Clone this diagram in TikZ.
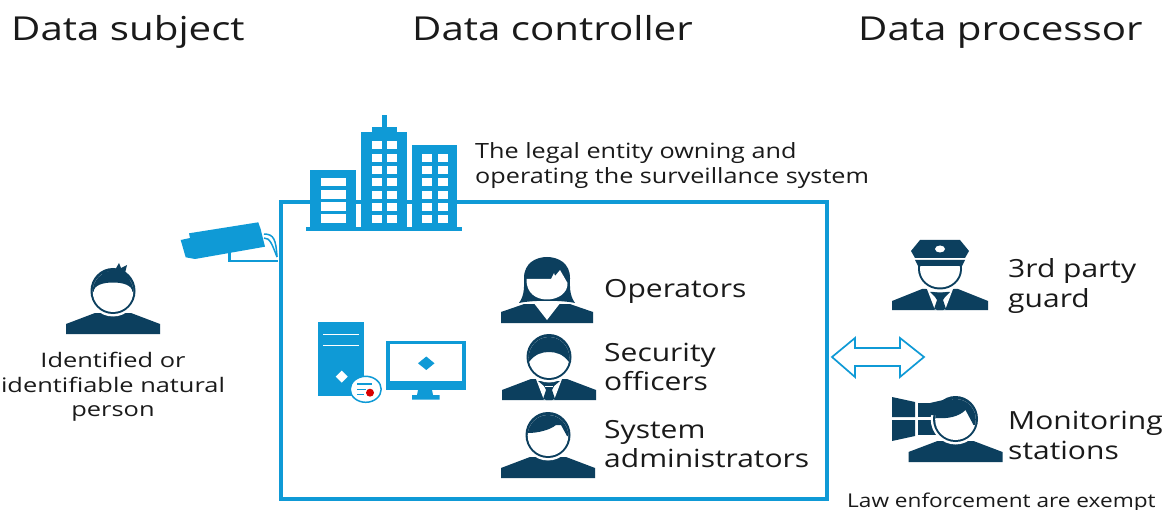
\documentclass[tikz,border=0pt]{standalone}
\usepackage{fontspec}
\setmainfont{Open Sans}
\newfontfamily\fhead[FakeStretch=1.22]{Open Sans}
\newfontfamily\flab[FakeStretch=1.2]{Open Sans}
\newfontfamily\fcap[FakeStretch=1.2]{Open Sans}
\newfontfamily\fsub[FakeStretch=1.27]{Open Sans}
\newfontfamily\flaw[FakeStretch=1.19]{Open Sans}
\definecolor{bluea}{HTML}{0F9AD6}
\definecolor{navy}{HTML}{0C3F5E}
\definecolor{ink}{HTML}{1A1A1A}
\newcommand\fs[1]{\fontsize{#1}{#1}\selectfont}
% #1 x, #2 y, #3 hair fill path, #4 extras on the body
\newcommand\bust[4]{%
  \begin{scope}[shift={(#1,#2)}]
    \fill[navy] (-47,0) -- (-47,-10) -- (-18,-21) -- (18,-21) -- (47,-10) -- (47,0) -- cycle;
    #4
    \fill[white] (0,-43) ellipse [x radius=24.8pt, y radius=25.5pt];
    \fill[navy] (0,-43) ellipse [x radius=22.5pt, y radius=23pt];
    \begin{scope}
      \path[clip] (0,-42.5) ellipse [x radius=20.3pt, y radius=20.5pt];
      \fill[white] (-30,-70) rectangle (30,-10);
      \fill[navy] #3;
    \end{scope}
  \end{scope}}
\tikzset{
  head1/.style={font=\fhead\fs{33},text=ink,anchor=base west,inner sep=0pt},
  lab/.style={font=\flab\fs{25},text=ink,anchor=base west,inner sep=0pt},
  cap1/.style={font=\fcap\fs{21},text=ink,anchor=base west,inner sep=0pt},
  capc/.style={font=\fsub\fs{20},text=ink,anchor=base,inner sep=0pt},
  win/.style={fill=white},
  boxline/.style={draw=bluea,line width=3.6pt}
}
\begin{document}
\begin{tikzpicture}[x=1pt,y=-1pt]
\useasboundingbox (0,0) rectangle (1166,510);
\fill[white] (0,0) rectangle (1166,510);
% headers
\node[head1] (hsubject) at (11,41) {Data subject};
\node[head1] (hcontroller) at (412,41) {Data controller};
\node[head1] (hprocessor) at (858,41) {Data processor};
% main box
\node[boxline,rectangle,minimum width=546pt,minimum height=297pt,inner sep=0pt,outer sep=0pt,anchor=north west] (ctrl) at (281,202) {};
% buildings
\fill[white] (306,165) rectangle (462,199.9);
\fill[bluea] (306,227) rectangle (462,231);
\fill[bluea] (310,170) rectangle (356,228);
\fill[bluea] (361,132) rectangle (407,228);
\fill[bluea] (372,127) rectangle (397,133);
\fill[bluea] (382,115) rectangle (387,128);
\fill[bluea] (412,145) rectangle (457,228);
\foreach \y in {178,190.3,202.3,214.5} \fill[win] (321,\y) rectangle (346,\y+8.3);
\foreach \y in {141.5,153.8,166.1,178.4,190.7,203,215.3} {
  \fill[win] (372,\y) rectangle (382,\y+8);
  \fill[win] (387,\y) rectangle (397,\y+8);}
\foreach \y in {154,166.2,178.4,190.7,203,215.3} {
  \fill[win] (422,\y) rectangle (432,\y+8);
  \fill[win] (438,\y) rectangle (448,\y+8);}
\node[cap1] (legal1) at (475,159) {The legal entity owning and};
\node[cap1] (legal2) at (475,184) {operating the surveillance system};
% camera
\fill[bluea] (189,233.3) -- (258.3,222.3) -- (260.7,229.3) -- (265,246.7) -- (195,259) -- (185.7,257.3) -- (180.7,240) -- (190,238) -- cycle;
\draw[bluea,line width=2.2pt] (229.5,252) -- (229.5,261) -- (278,261);
\draw[bluea,line width=1.5pt] (264,234) .. controls (274,234) and (276,240) .. (277,257);
\draw[bluea,line width=1.5pt] (264,238) .. controls (270,238) and (272,244) .. (277,257);
% server
\fill[bluea] (318,322) rectangle (364,396);
\draw[white,line width=1pt] (323,334) -- (359,334) (323,345) -- (359,345);
\fill[white] (341.7,370.7) -- (347.7,376.7) -- (341.7,382.7) -- (335.7,376.7) -- cycle;
\draw[bluea,fill=white,line width=1.5pt] (365.7,389.3) ellipse [x radius=15.5pt, y radius=13pt];
\fill[red!85!black] (370,392.7) circle [radius=4pt];
\draw[bluea,line width=1.1pt] (357,384) -- (372,384) (357,389.5) -- (366,389.5) (357,394.5) -- (364,394.5);
% monitor
\fill[bluea] (385.7,341) rectangle (465.7,390);
\fill[white] (390,344.3) rectangle (462,381);
\fill[bluea] (418,390) -- (432,390) -- (433,395) -- (439.5,395) -- (439.5,399.5) -- (412,399.5) -- (412,395) -- (417,395) -- cycle;
\fill[bluea] (426.3,356.5) -- (434.5,363.3) -- (426.3,370) -- (418,363.3) -- cycle;
% data subject
\bust{113}{334}{(-25,-42) -- (-19.5,-42) .. controls (-19,-49) and (-10,-51.5) .. (0,-51.5) .. controls (10,-51.5) and (19,-49) .. (19.5,-42) -- (25,-42) -- (25,-70) -- (-25,-70) -- cycle}{}
\fill[navy] (100,273) -- (115,270) -- (119,263) -- (121,268) -- (127,265) -- (125,273) -- (130,280) -- cycle;
\node[capc] (subj1) at (113,367) {Identified or};
\node[capc] (subj2) at (113,392) {identifiable natural};
\node[capc] (subj3) at (113,416) {person};
% operator
\begin{scope}[shift={(547,323)}]
  \fill[navy] (-46,0) -- (-46,-11) -- (-17,-21) -- (17,-21) -- (46,-11) -- (46,0) -- cycle;
  \fill[white] (-14,-21) -- (0,-3) -- (14,-21) -- cycle;
  \fill[white] (-27,-19) -- (27,-19) -- (27,-40) -- (-27,-40) -- cycle;
  \fill[navy] (-28,-20) .. controls (-22,-28) and (-23,-38) .. (-23,-45) .. controls (-23,-60) and (-11,-66) .. (0,-66) .. controls (11,-66) and (23,-60) .. (23,-45) .. controls (23,-38) and (22,-28) .. (28,-20) .. controls (15,-23) and (-15,-23) .. (-28,-20) -- cycle;
  \fill[white] (-20.5,-44) -- (4,-44) -- (7,-50) -- (8,-47) -- (13,-53) -- (20.5,-40) .. controls (21,-30) and (11,-23.5) .. (0,-23.5) .. controls (-11,-23.5) and (-21,-30) .. (-20.5,-44) -- cycle;
\end{scope}
\node[lab] (oper) at (604,298) {Operators};
% security officer
\bust{549}{400}{(-25,-38) -- (-20,-38) .. controls (-14,-46) and (-7,-48) .. (0,-48) .. controls (7,-48) and (14,-46) .. (20,-38) -- (25,-38) -- (25,-70) -- (-25,-70) -- cycle}{
  \fill[white] (-13,-21) -- (-5,0) -- (5,0) -- (13,-21) -- cycle;
  \fill[navy] (-11,-19) -- (11,-19) -- (5,-14) -- (3,-10) -- (6,-1) -- (3,0) -- (-3,0) -- (-6,-1) -- (-3,-10) -- (-5,-14) -- cycle;
  \draw[white,line width=.9pt] (-4,-14) -- (4,-14);
}
\node[lab] (sec1) at (604,361) {Security};
\node[lab] (sec2) at (604,390) {officers};
% admin
\bust{548}{478}{(-25,-45) -- (-20,-45) .. controls (-10,-45) and (2,-48) .. (8,-53) -- (13,-53) -- (19,-42) -- (25,-42) -- (25,-70) -- (-25,-70) -- cycle}{}
\node[lab] (adm1) at (604,438) {System};
\node[lab] (adm2) at (604,467) {administrators};
% guard
\begin{scope}[shift={(940,310)}]
  \fill[navy] (-48,0) -- (-48,-9) -- (-18,-21) -- (18,-21) -- (48,-9) -- (48,0) -- cycle;
  \fill[white] (-13,-21) -- (-5,0) -- (5,0) -- (13,-21) -- cycle;
  \fill[navy] (-10,-18) -- (10,-18) -- (5,-13) -- (3,-10) -- (6,-1) -- (3,0) -- (-3,0) -- (-6,-1) -- (-3,-10) -- (-5,-13) -- cycle;
  \fill[white] (0,-41) ellipse [x radius=24.5pt, y radius=23.5pt];
  \fill[navy] (0,-41) ellipse [x radius=22pt, y radius=20.5pt];
  \fill[white] (0,-41) ellipse [x radius=20pt, y radius=18.5pt];
  \fill[white] (-25,-60) rectangle (25,-44);
  \draw[navy,line width=2pt] (-21,-44) -- (-21,-40) (21,-44) -- (21,-40);
  \fill[navy] (-25,-50) -- (25,-50) -- (22,-44) -- (-22,-44) -- cycle;
  \fill[navy] (-20,-70) -- (20,-70) -- (29,-59) -- (25,-52) -- (-25,-52) -- (-29,-59) -- cycle;
  \fill[white] (0,-61) ellipse [x radius=5pt, y radius=3.5pt];
\end{scope}
\node[lab] (guard1) at (1008,278) {3rd party};
\node[lab] (guard2) at (1008,308) {guard};
% double arrow
\draw[bluea,line width=1.7pt,line join=miter,fill=white] (832,357) -- (855,338) -- (855,348) -- (900,348) -- (900,338) -- (924,357) -- (900,377) -- (900,366) -- (855,366) -- (855,377) -- cycle;
% monitoring
\fill[navy] (892,397) -- (915,402) -- (915,417) -- (892,417) -- cycle;
\fill[navy] (892,420) -- (915,420) -- (915,436) -- (892,441) -- cycle;
\fill[navy] (918,403) -- (945,403) -- (945,417) -- (918,417) -- cycle;
\fill[navy] (918,420) -- (945,420) -- (945,435) -- (918,435) -- cycle;
\bust{955.5}{462}{(-25,-44) -- (-21,-44) .. controls (-8,-43) and (3,-45) .. (10,-52) -- (18,-37) -- (25,-37) -- (25,-70) -- (-25,-70) -- cycle}{}
\fill[navy] (930,403) -- (952,398) -- (952,415) -- (930,415) -- cycle;
\node[lab] (mon1) at (1008,429) {Monitoring};
\node[lab] (mon2) at (1008,459) {stations};
\node[font=\flaw\fs{19},text=ink,anchor=base west,inner sep=0pt] (law) at (847,507) {Law enforcement are exempt};
\end{tikzpicture}
\end{document}
